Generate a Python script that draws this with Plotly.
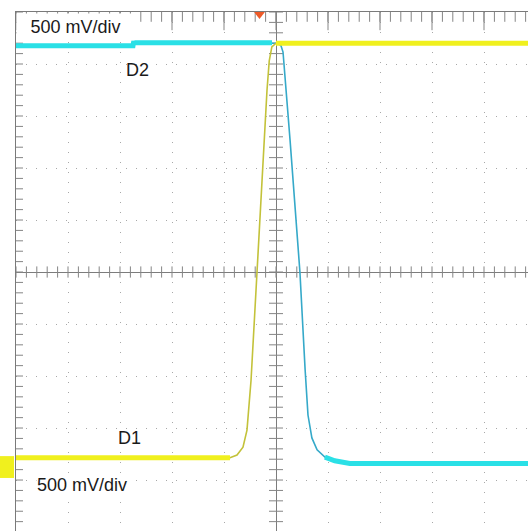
import numpy as np
import plotly.graph_objects as go

# ---- data (time and voltage in divisions) ----
d1_time = [-5.0, -0.885, -0.75, -0.635, -0.558, -0.48, -0.365, -0.25, -0.173, -0.13, -0.08, 0.0, 5.0]
d1_volt = [-3.57, -3.57, -3.52, -3.37, -3.04, -2.08, 0.0, 2.15, 3.5, 4.06, 4.33, 4.40, 4.40]
d1_flat = [(0, 2), (11, 13)]

d2_time = [-5.0, -2.75, -2.74, -0.077, 0.04, 0.096, 0.135, 0.27, 0.46, 0.56, 0.615, 0.69, 0.79, 0.94, 1.13, 1.42, 5.0]
d2_volt = [4.35, 4.35, 4.41, 4.41, 4.40, 4.35, 4.23, 2.54, 0.0, -1.88, -2.75, -3.19, -3.42, -3.56, -3.63, -3.68, -3.68]
d2_flat = [(0, 4), (13, 17)]

channel_labels = ["D1", "D2"]
scale_label = "500 mV/div"
trigger_time = -0.317
d1_ground = -3.75

x_range = [-5.0, 4.846]
y_range = [-4.98, 5.0]

minor_pos = np.round(np.arange(-5.0, 5.0001, 0.2), 3)
major_pos = np.arange(-5, 6, 1)

GRAY = "#858585"
fig = go.Figure()

def ticks(x, y, symbol, size, color=GRAY):
    fig.add_trace(go.Scatter(x=x, y=y, mode="markers", hoverinfo="skip",
                             marker=dict(symbol=symbol, size=size, color=color,
                                         line=dict(color=color, width=1))))

# centre cross ticks
ticks(minor_pos, np.zeros_like(minor_pos), "line-ns", 8)
ticks(np.zeros_like(minor_pos), minor_pos, "line-ew", 10)
# border ticks (half clipped by plot area)
ticks(minor_pos, np.full_like(minor_pos, 5.0), "line-ns", 14)
ticks(major_pos, np.full_like(major_pos, 5.0, dtype=float), "line-ns", 26)
ticks(minor_pos, np.full_like(minor_pos, -5.0), "line-ns", 14)
ticks(major_pos, np.full_like(major_pos, -5.0, dtype=float), "line-ns", 22)
ticks(np.full_like(minor_pos, -5.0), minor_pos, "line-ew", 10)

# waveforms: thin edges
fig.add_trace(go.Scatter(x=d2_time, y=d2_volt, mode="lines", hoverinfo="skip",
                         line=dict(color="#35a9c9", width=1.6)))
fig.add_trace(go.Scatter(x=d1_time, y=d1_volt, mode="lines", hoverinfo="skip",
                         line=dict(color="#c3c23a", width=1.6)))
# waveforms: thick noisy flat levels
for a, b in d2_flat:
    fig.add_trace(go.Scatter(x=d2_time[a:b], y=d2_volt[a:b], mode="lines", hoverinfo="skip",
                             line=dict(color="#2ae0e6", width=5)))
for a, b in d1_flat:
    fig.add_trace(go.Scatter(x=d1_time[a:b], y=d1_volt[a:b], mode="lines", hoverinfo="skip",
                             line=dict(color="#f0f01e", width=5)))

# trigger marker
fig.add_trace(go.Scatter(x=[trigger_time], y=[4.96], mode="markers", cliponaxis=False,
                         hoverinfo="skip",
                         marker=dict(symbol="triangle-down", size=10, color="#ee5a28")))

# D1 ground marker at left of the screen
fig.add_shape(type="rect", xref="paper", yref="y", x0=-16 / 512, x1=-2 / 512,
              y0=d1_ground - 0.21, y1=d1_ground + 0.21,
              fillcolor="#f0f01e", line=dict(width=0), layer="above")

FONT = dict(family="Liberation Sans, Arial, sans-serif", size=18, color="#1a1a1a")
fig.add_annotation(x=-5.0, y=4.98, xref="x", yref="y", xanchor="left", yanchor="top",
                   text=scale_label, showarrow=False, font=FONT, bgcolor="white",
                   width=117, height=26, borderpad=0, align="center")
fig.add_annotation(x=(81.5 - 276) / 52, y=(272 - 484.5) / 52, xref="x", yref="y",
                   text=scale_label, showarrow=False, font=FONT, bgcolor="white", borderpad=0)
fig.add_annotation(x=(137 - 276) / 52, y=(272 - 70) / 52, xref="x", yref="y",
                   text=channel_labels[1], showarrow=False, font=FONT)
fig.add_annotation(x=(129.5 - 276) / 52, y=(272 - 438) / 52, xref="x", yref="y",
                   text=channel_labels[0], showarrow=False, font=FONT)

axis_common = dict(showgrid=True, gridcolor="#a8a8a8", griddash="1px,9px", gridwidth=1,
                   dtick=1, tick0=0, zeroline=True, zerolinecolor="#7c7c7c", zerolinewidth=1,
                   showticklabels=False, ticks="", showline=True, linecolor="#7a7a7a",
                   linewidth=1, fixedrange=True)
fig.update_layout(
    width=528, height=531,
    margin=dict(l=16, r=0, t=12, b=0, pad=0),
    paper_bgcolor="white", plot_bgcolor="white",
    showlegend=False, hovermode=False,
    xaxis=dict(range=x_range, side="top", **axis_common),
    yaxis=dict(range=y_range, side="left", **axis_common),
)

fig.write_html("out.html", config={"displayModeBar": False},
               post_script="document.body.style.margin='0px';")
